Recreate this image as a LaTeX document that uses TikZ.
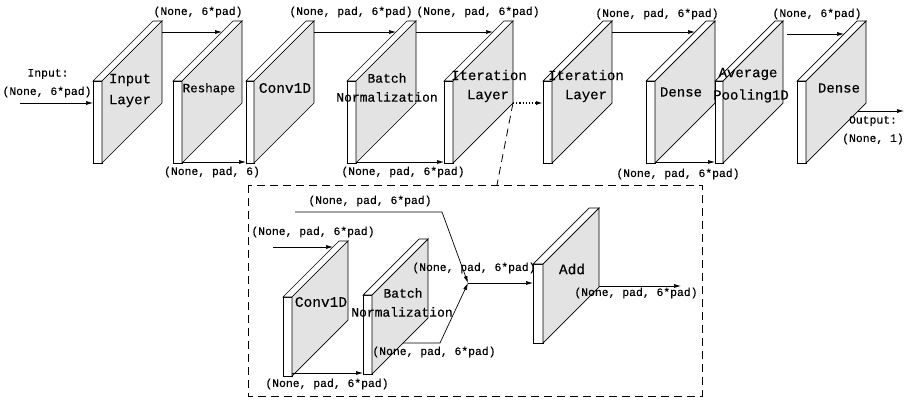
\documentclass[tikz,border=0pt]{standalone}
\usepackage{fontspec}
\setmainfont[FakeBold=0.35]{Liberation Mono}
\usetikzlibrary{arrows.meta,calc}
\definecolor{face}{HTML}{E3E3E3}
\tikzset{
  every node/.style={inner sep=0pt},
  lbl/.style={font=\fontsize{11.4}{12}\selectfont},
  big/.style={font=\fontsize{14}{15}\selectfont},
  mid/.style={font=\fontsize{13}{14}\selectfont},
  arr/.style={-{Latex[length=7pt,width=4pt]}, line width=0.7pt},
  slabline/.style={line width=0.7pt},
  linkline/.style={dash pattern=on 8pt off 5pt, line width=0.8pt},
}
\newcommand\slabshape[6]{%
  \filldraw[slabline,fill=white] (#2,#3) rectangle (#2+#4,#3+#5);
  \filldraw[slabline,fill=white] (#2,#3) -- (#2+#6,#3-#6) -- (#2+#4+#6,#3-#6) -- (#2+#4,#3) -- cycle;
  \filldraw[slabline,fill=face] (#2+#4,#3) -- (#2+#4+#6,#3-#6) -- (#2+#4+#6,#3+#5-#6) -- (#2+#4,#3+#5) -- cycle;
  \coordinate (#1-f) at (#2,#3);
  \coordinate (#1-fb) at (#2+#4,#3+#5);
  \coordinate (#1-tl) at (#2+#6,#3-#6);
  \coordinate (#1-bt) at (#2+#4+#6,#3-#6);
}
\begin{document}
\begin{tikzpicture}[x=1pt,y=-1pt]
\useasboundingbox (0,0) rectangle (905,401);
\fill[white] (0,0) rectangle (905,401);

% ---------- top row slabs ----------
\slabshape{s1}{93}{81}{9}{82}{60}
\slabshape{s2}{173}{81}{9}{82}{60}
\slabshape{s3}{246}{81}{8}{82}{60}
\slabshape{s4}{347}{81}{9}{82}{60}
\slabshape{s5}{444}{81}{9}{82}{60}
\slabshape{s6}{543}{81}{9}{82}{60}
\slabshape{s7}{646}{81}{9}{82}{60}
\draw[arr] ($(s7-fb)+(0,-1)$) -- ($(s7-fb)+(60,-1)$) coordinate (s8in);
\slabshape{s8}{715}{81}{8}{82}{60}
\slabshape{s9}{797}{81}{9}{82}{60}

% slab texts
\node[big] (t1a) at (130,80) {Input};
\node[big] (t1b) at (130,101) {Layer};
\node[font=\fontsize{12.5}{13}\selectfont] (t2) at (209,89) {Reshape};
\node[font=\fontsize{14.5}{15}\selectfont] (t3) at (285,88) {Conv1D};
\node[mid] (t4a) at (387,78) {Batch};
\node[mid] (t4b) at (387,97) {Normalization};
\node[big] (t5a) at (489,75) {Iteration};
\node[big] (t5b) at (488,96) {Layer};
\node[big] (t6a) at (586,75) {Iteration};
\node[big] (t6b) at (586,96) {Layer};
\node[big] (t7) at (681,92) {Dense};
\node[big] (t8a) at (748,74) {Average};
\node[big] (t8b) at (751,96) {Pooling1D};
\node[big] (t9) at (839,88) {Dense};

% input / output
\coordinate (inS) at (20,103);
\draw[arr] (inS) -- ($(s1-f)+(0,22)$);
\node[lbl] (inA) at (48,74) {Input:};
\node[lbl] (inB) at (47,92) {(None, 6*pad)};
\coordinate (outE) at (904,111);
\draw[arr] ($(s9-fb)+(52,-52)$) -- (outE);
\node[lbl] (outA) at (873,121) {Output:};
\node[lbl] (outB) at (873,139) {(None, 1)};

% top arrows
\draw[arr] ($(s1-bt)+(0,11)$) -- ($(s2-tl)+(-11,11)$);
\node[lbl] (l12) at (198,12) {(None, 6*pad)};
\draw[arr] ($(s3-bt)+(0,11)$) -- ($(s4-tl)+(-11,11)$);
\node[lbl] (l34) at (351,12) {(None, pad, 6*pad)};
\draw[arr] ($(s4-bt)+(0,11)$) -- ($(s5-tl)+(-11,11)$);
\node[lbl] (l45) at (478,12) {(None, pad, 6*pad)};
\draw[arr] ($(s6-bt)+(0,11)$) -- ($(s7-tl)+(-11,11)$);
\node[lbl] (l67) at (657,14) {(None, pad, 6*pad)};
\draw[arr] ($(s8-bt)+(4,13)$) -- ($(s9-tl)+(-13,13)$);
\node[lbl] (l89) at (817,14) {(None, 6*pad)};

% bottom arrows
\draw[arr] ($(s2-fb)+(0,-1)$) -- ($(s3-f)+(0,81)$);
\node[lbl] (l23) at (212,172) {(None, pad, 6)};
\draw[arr] ($(s4-fb)+(0,-1)$) -- ($(s5-f)+(0,81)$);
\node[lbl] (l45b) at (403,172) {(None, pad, 6*pad)};
\node[lbl] (l78) at (678,174) {(None, pad, 6*pad)};

% dotted link between iteration layers
\draw[-{Latex[length=7pt,width=4pt]}, line width=1.2pt, dotted] ($(s5-bt)+(0,82)$) -- ($(s6-f)+(0,22)$);

% ---------- detail box ----------
\coordinate (boxTL) at (248,185);
\coordinate (boxBR) at (702,396);
\coordinate (linkE) at (497,185);
\draw[linkline] ($(s5-bt)+(0,82)$) -- (linkE);
\draw[linkline] (boxTL) rectangle (boxBR);

\slabshape{c1}{283}{297}{9}{79}{56}
\slabshape{b1}{363}{295}{9}{79}{56}
\slabshape{a1}{533}{264}{10}{79}{56}

\node[font=\fontsize{14.5}{15}\selectfont] (tc1) at (321,302) {Conv1D};
\node[mid] (tb1a) at (403,293) {Batch};
\node[mid] (tb1b) at (402,312) {Normalization};
\node[font=\fontsize{14.5}{15}\selectfont] (ta1) at (572,269) {Add};

\coordinate (cin) at (273,247);
\draw[arr] (cin) -- ($(c1-tl)+(-6,6)$);
\node[lbl] (lcin) at (313,232) {(None, pad, 6*pad)};

\draw[arr] ($(c1-fb)+(0,-3)$) -- ($(b1-f)+(0,78)$);
\node[lbl] (lcb) at (327,384) {(None, pad, 6*pad)};

\coordinate (skipS) at (295,212);
\coordinate (skipB) at (442,212);
\coordinate (merge) at (468,283);
\draw[arr] (skipS) -- (skipB) -- (merge);
\node[lbl] (lskip) at (370,201) {(None, pad, 6*pad)};

\coordinate (bnB) at (440,343);
\draw[arr] ($(b1-fb)+(31,-31)$) -- (bnB) -- (merge);
\node[lbl] (lbn) at (434,352) {(None, pad, 6*pad)};

\draw[arr] (merge) -- ($(a1-f)+(0,19)$);
\node[lbl] (lmerge) at (474,268) {(None, pad, 6*pad)};

\coordinate (addE) at (681,286);
\draw[arr] ($(a1-bt)+(0,78)$) -- (addE);
\node[lbl] (ladd) at (636,293) {(None, pad, 6*pad)};
\end{tikzpicture}
\end{document}
